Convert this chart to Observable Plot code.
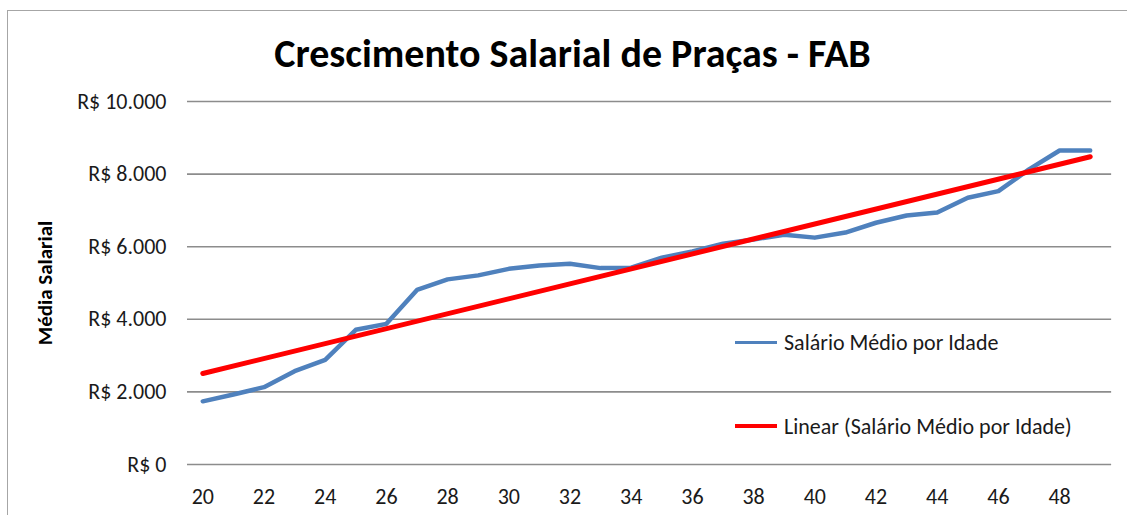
<!DOCTYPE html>
<html>
<head>
<meta charset="utf-8">
<script src="https://cdn.jsdelivr.net/npm/d3@7"></script>
<script src="https://cdn.jsdelivr.net/npm/@observablehq/plot@0.6"></script>
<style>
  html, body { margin: 0; padding: 0; background: #fff; overflow: hidden; }
  #wrap { position: relative; width: 1127px; height: 515px; font-family: Carlito, Calibri, Lato, sans-serif; }
  #frame { position: absolute; left: 7px; top: 10px; width: 1140px; height: 530px; border: 1.5px solid #a6a6a6; box-sizing: border-box; }
  #title { position: absolute; left: 0; width: 1145px; top: 30px; line-height: 48px; text-align: center; font-weight: bold; font-size: 40px; color: #000; white-space: nowrap; }
  #ylabel { position: absolute; left: 45px; top: 283px; transform: translate(-50%, -50%) rotate(-90deg); font-weight: bold; font-size: 21px; white-space: nowrap; color: #000; }
  #chart { position: absolute; left: 0; top: 0; }
  .leg { position: absolute; left: 735px; display: flex; align-items: center; font-size: 22px; color: #1a1a1a; white-space: nowrap; height: 24px; }
  .leg .sw { width: 42px; height: 3px; margin-right: 7px; }
</style>
</head>
<body>
<div id="wrap">
  <div id="frame"></div>
  <div id="chart"></div>
  <div id="title">Crescimento Salarial de Praças - FAB</div>
  <div id="ylabel">Média Salarial</div>
  <div class="leg" style="top:330px"><div class="sw" style="background:#4F81BD"></div><span>Salário Médio por Idade</span></div>
  <div class="leg" style="top:414px"><div class="sw" style="background:#FF0000;height:4px"></div><span>Linear (Salário Médio por Idade)</span></div>
</div>
<script>
const ages = [20,21,22,23,24,25,26,27,28,29,30,31,32,33,34,35,36,37,38,39,40,41,42,43,44,45,46,47,48,49];
const salaries = [1740,1930,2130,2570,2880,3710,3875,4810,5100,5210,5390,5480,5530,5410,5420,5700,5870,6080,6200,6330,6250,6390,6660,6860,6940,7350,7530,8130,8650,8650];
const yTicks = [0,2000,4000,6000,8000,10000];
const xTicks = [20,22,24,26,28,30,32,34,36,38,40,42,44,46,48];

const data = ages.map((a, i) => ({age: a, salary: salaries[i]}));
const locale = d3.formatLocale({decimal: ",", thousands: ".", grouping: [3], currency: ["R$ ", ""]});
const fmt = locale.format("$,.0f");

const chart = Plot.plot({
  width: 1127,
  height: 515,
  marginLeft: 187,
  marginRight: 22,
  marginTop: 101,
  marginBottom: 51,
  style: {fontFamily: "Carlito, Calibri, Lato, sans-serif", fontSize: "22px", color: "#1a1a1a", background: "transparent"},
  x: {domain: [19.5, 49.5], ticks: xTicks, tickSize: 0, tickPadding: 24, label: null, tickFormat: d => String(d)},
  y: {domain: [0, 10000], ticks: yTicks, tickSize: 0, tickPadding: 21, label: null, tickFormat: fmt},
  marks: [
    Plot.ruleY(yTicks, {x1: 19.5, x2: 49.7, stroke: "#8c8c8c", strokeWidth: 1.6}),
    Plot.line(data, {x: "age", y: "salary", stroke: "#4F81BD", strokeWidth: 4.5, strokeLinecap: "round", strokeLinejoin: "round"}),
    Plot.linearRegressionY(data, {x: "age", y: "salary", stroke: "#FF0000", strokeWidth: 5, ci: 0, strokeLinecap: "round"})
  ]
});
document.getElementById("chart").appendChild(chart);
</script>
</body>
</html>
